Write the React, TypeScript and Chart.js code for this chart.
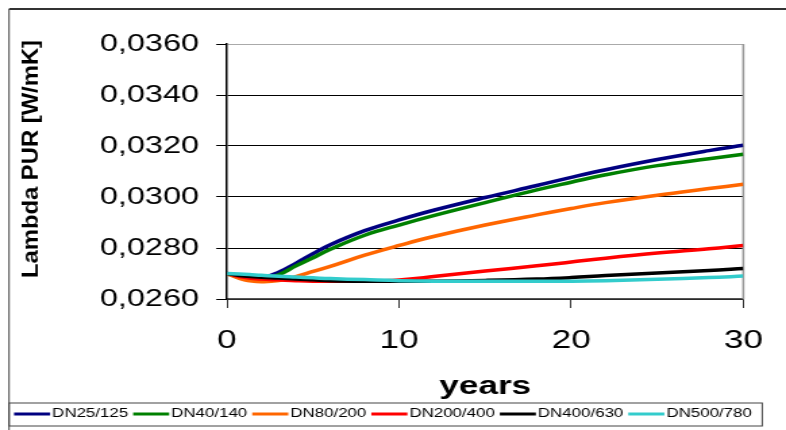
import { useEffect, useRef } from "react";
import { Chart, registerables } from "chart.js";

Chart.register(...registerables);

// ---- data ----
const years = [0, 1, 2, 3, 4, 5, 6, 8, 10, 12, 15, 18, 20, 22, 25, 28, 30];
const seriesNames = ["DN25/125", "DN40/140", "DN80/200", "DN200/400", "DN400/630", "DN500/780"];
const dn25 = [0.0270, 0.02685, 0.02683, 0.02705, 0.0274, 0.02778, 0.02813, 0.02868, 0.0291, 0.02948, 0.02998, 0.03045, 0.03077, 0.03107, 0.03147, 0.03182, 0.03203];
const dn40 = [0.0270, 0.02678, 0.02678, 0.02695, 0.0273, 0.02762, 0.02795, 0.0285, 0.0289, 0.02927, 0.02978, 0.03028, 0.03058, 0.03087, 0.03123, 0.0315, 0.03168];
const dn80 = [0.0270, 0.02675, 0.02668, 0.02672, 0.02688, 0.02708, 0.02728, 0.02772, 0.0281, 0.02845, 0.0289, 0.0293, 0.02955, 0.02978, 0.03007, 0.03033, 0.0305];
const dn200 = [0.0270, 0.02685, 0.02678, 0.02675, 0.02672, 0.0267, 0.0267, 0.0267, 0.02675, 0.02688, 0.0271, 0.0273, 0.02745, 0.0276, 0.0278, 0.02797, 0.0281];
const dn400 = [0.0270, 0.0269, 0.02685, 0.02682, 0.02678, 0.02675, 0.02672, 0.0267, 0.0267, 0.0267, 0.02673, 0.02678, 0.02684, 0.02692, 0.02702, 0.02712, 0.0272];
const dn500 = [0.0270, 0.02697, 0.02693, 0.02689, 0.02686, 0.02683, 0.0268, 0.02676, 0.02672, 0.0267, 0.0267, 0.0267, 0.0267, 0.02672, 0.02677, 0.02684, 0.0269];
const seriesValues = [dn25, dn40, dn80, dn200, dn400, dn500];
const seriesColors = ["#000080", "#008000", "#FF6600", "#FF0000", "#000000", "#33CCCC"];
const xMin = 0, xMax = 30, xStep = 10;
const yMin = 0.026, yMax = 0.036, yStep = 0.002;
const xTitle = "years";
const yTitle = "Lambda PUR [W/mK]";

// ---- layout ----
const W = 786, H = 430;
const STRETCH = 1.35;
const LW = Math.round(W / STRETCH);
const FONT = '"Liberation Sans", Arial, Helvetica, sans-serif';

const framePlugin = {
  id: "frame",
  beforeDraw(chart: any) {
    const ctx = chart.ctx;
    ctx.save();
    ctx.fillStyle = "#fff";
    ctx.fillRect(0, 0, chart.width, chart.height);
    ctx.strokeStyle = "#333";
    ctx.lineWidth = 2;
    ctx.beginPath();
    ctx.moveTo(6.7, 9);
    ctx.lineTo(chart.width, 9);
    ctx.stroke();
    ctx.lineWidth = 1;
    ctx.strokeStyle = "#444";
    ctx.beginPath();
    ctx.moveTo(6.7, 9);
    ctx.lineTo(6.7, chart.height);
    ctx.stroke();
    ctx.restore();
  },
  beforeDatasetsDraw(chart: any) {
    const { ctx, chartArea } = chart;
    ctx.save();
    ctx.strokeStyle = "#999";
    ctx.lineWidth = 1.6;
    ctx.beginPath();
    ctx.moveTo(chartArea.right, chartArea.top);
    ctx.lineTo(chartArea.right, chartArea.bottom);
    ctx.stroke();
    ctx.restore();
  },
  afterDraw(chart: any) {
    const ctx = chart.ctx;
    ctx.save();
    // legend box
    ctx.strokeStyle = "#444";
    ctx.lineWidth = 1;
    ctx.strokeRect(6.7, 403, 564.4 - 6.7, 23);
    ctx.font = `12.5px ${FONT}`;
    ctx.textBaseline = "middle";
    ctx.textAlign = "left";
    let x = 10.4;
    const y = 414;
    chart.data.datasets.forEach((ds: any) => {
      ctx.strokeStyle = ds.borderColor;
      ctx.lineWidth = 3;
      ctx.beginPath();
      ctx.moveTo(x, y);
      ctx.lineTo(x + 26.7, y);
      ctx.stroke();
      ctx.fillStyle = "#000";
      ctx.fillText(ds.label, x + 28.2, y);
      x += 28.2 + ctx.measureText(ds.label).width + 3.7;
    });
    // y title
    ctx.translate(23.7, 159);
    ctx.rotate(-Math.PI / 2);
    ctx.scale(1.4, 1);
    ctx.font = `bold 17px ${FONT}`;
    ctx.textAlign = "center";
    ctx.textBaseline = "middle";
    ctx.fillStyle = "#000";
    ctx.fillText(yTitle, 0, 0);
    ctx.restore();
  },
};

export default function App() {
  const ref = useRef<HTMLCanvasElement | null>(null);
  useEffect(() => {
    if (!ref.current) return;
    const chart = new Chart(ref.current, {
      type: "line",
      data: {
        datasets: seriesNames.map((name, i) => ({
          label: name,
          data: years.map((yr, j) => ({ x: yr, y: seriesValues[i][j] })),
          borderColor: seriesColors[i],
          backgroundColor: seriesColors[i],
          borderWidth: 3.5,
          pointRadius: 0,
          tension: 0.4,
          fill: false,
          order: seriesNames.length - i,
        })),
      },
      options: {
        responsive: false,
        animation: false,
        devicePixelRatio: 1,
        events: [],
        layout: { padding: { left: 0, right: LW - 550.4, top: 44, bottom: 30 } },
        plugins: { legend: { display: false }, tooltip: { enabled: false }, title: { display: false } },
        scales: {
          x: {
            type: "linear",
            min: xMin,
            max: xMax,
            afterFit: (s: any) => { s.height = 101; },
            ticks: { stepSize: xStep, color: "#000", padding: 17, font: { family: FONT, size: 26 } },
            grid: { drawOnChartArea: false, drawTicks: true, tickLength: 9, tickColor: "#333", tickWidth: 1 },
            border: { display: true, color: "#555", width: 1.5 },
            title: { display: true, text: xTitle, color: "#000", padding: 0, font: { family: FONT, size: 26, weight: "bold", lineHeight: 1 } },
          },
          y: {
            type: "linear",
            min: yMin,
            max: yMax,
            afterFit: (s: any) => { s.width = 168.1; },
            ticks: {
              stepSize: yStep,
              color: "#000",
              padding: 12.7,
              font: { family: FONT, size: 24 },
              callback: (v: any) => Number(v).toFixed(4).replace(".", ","),
            },
            grid: {
              color: (c: any) => (c.tick && c.tick.value >= yMax - 1e-9 ? "#aaa" : "#000"),
              lineWidth: 1,
              drawTicks: true,
              tickLength: 8,
              tickColor: "#000",
            },
            border: { display: true, color: "#000", width: 1.5 },
          },
        },
      },
      plugins: [framePlugin],
    } as any);
    return () => chart.destroy();
  }, []);
  return (
    <canvas
      ref={ref}
      width={LW}
      height={H}
      style={{ position: "absolute", left: 0, top: 0, width: W + "px", height: H + "px", display: "block" }}
    />
  );
}
